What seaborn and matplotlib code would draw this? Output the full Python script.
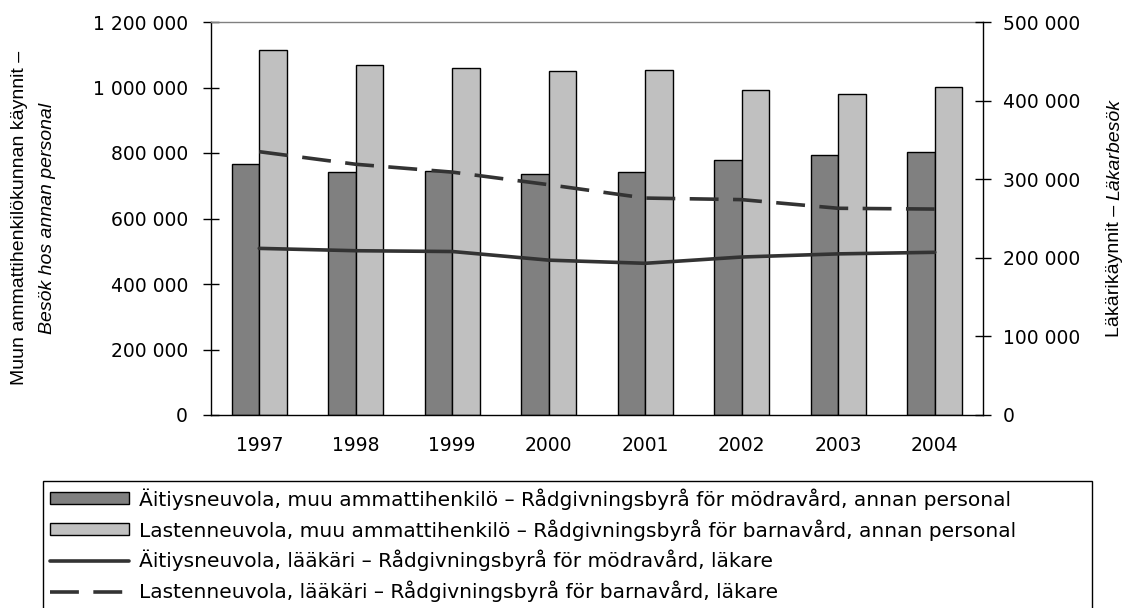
import numpy as np
import pandas as pd
import matplotlib.pyplot as plt
import matplotlib.patches as mpatches
from matplotlib.lines import Line2D
from matplotlib.ticker import FuncFormatter
import seaborn as sns

# Visits per year
years = ["1997", "1998", "1999", "2000", "2001", "2002", "2003", "2004"]
mother_other = [765000, 741000, 746000, 736000, 741000, 780000, 795000, 804000]
child_other = [1113000, 1070000, 1060000, 1050000, 1054000, 991000, 981000, 1001000]
mother_doctor = [212000, 209000, 208000, 197000, 193000, 201000, 205000, 207000]
child_doctor = [335000, 319000, 309000, 293000, 276000, 274000, 263000, 262000]

labels = [
    "Äitiysneuvola, muu ammattihenkilö – Rådgivningsbyrå för mödravård, annan personal",
    "Lastenneuvola, muu ammattihenkilö – Rådgivningsbyrå för barnavård, annan personal",
    "Äitiysneuvola, lääkäri – Rådgivningsbyrå för mödravård, läkare",
    "Lastenneuvola, lääkäri – Rådgivningsbyrå för barnavård, läkare",
]

bars = pd.DataFrame({
    "year": years * 2,
    "visits": mother_other + child_other,
    "group": [labels[0]] * len(years) + [labels[1]] * len(years),
})

dark_bar = "#808080"
light_bar = "#c0c0c0"
line_col = "#333333"

sns.set_style("white")
plt.rcParams["font.family"] = ["DejaVu Sans"]
plt.rcParams["axes.edgecolor"] = "black"
plt.rcParams["text.color"] = "black"
plt.rcParams["xtick.color"] = "black"
plt.rcParams["ytick.color"] = "black"

W, H = 1123, 608
fig = plt.figure(figsize=(W / 100, H / 100), dpi=100)
ax = fig.add_axes([211 / W, 1 - 415 / H, (983 - 211) / W, (415 - 22) / H])

sns.barplot(data=bars, x="year", y="visits", hue="group",
            palette=[dark_bar, light_bar], edgecolor="black", linewidth=1,
            width=0.57, ax=ax, legend=False)

ax2 = ax.twinx()
x = np.arange(len(years))
sns.lineplot(x=x, y=mother_doctor, ax=ax2, color=line_col, linewidth=2.6)
sns.lineplot(x=x, y=child_doctor, ax=ax2, color=line_col, linewidth=2.6,
             linestyle=(0, (8, 4)))

fmt = FuncFormatter(lambda v, p: f"{int(v):,}".replace(",", " "))

ax.set_xlim(-0.5, len(years) - 0.5)
ax.set_ylim(0, 1200000)
ax.set_yticks(range(0, 1200001, 200000))
ax.yaxis.set_major_formatter(fmt)
ax.set_xticks(np.arange(-0.5, len(years), 1), minor=True)
ax.tick_params(axis="x", which="major", length=0, pad=15, labelsize=13.5)
ax.tick_params(axis="x", which="minor", direction="inout", length=10, width=1)
ax.tick_params(axis="y", direction="inout", length=11, width=1, pad=11, labelsize=13.5)
ax.set_xlabel("")
ax.set_ylabel("")

ax2.set_ylim(0, 500000)
ax2.set_yticks(range(0, 500001, 100000))
ax2.yaxis.set_major_formatter(fmt)
ax2.tick_params(axis="y", direction="inout", length=11, width=1, pad=9, labelsize=13.5)
ax2.set_xlabel("")
ax2.set_ylabel("")

for s in ["left", "bottom"]:
    ax.spines[s].set_color("black")
    ax.spines[s].set_linewidth(1)
ax.spines["top"].set_color("#808080")
ax.spines["top"].set_linewidth(1)
ax.spines["right"].set_visible(False)
for s in ["left", "top", "bottom"]:
    ax2.spines[s].set_visible(False)
ax2.spines["right"].set_color("black")
ax2.spines["right"].set_linewidth(1)

# Axis titles
fig.text(20 / W, 1 - 218 / H, "Muun ammattihenkilökunnan käynnit –", rotation=90,
         ha="center", va="center", fontsize=14, family="Liberation Sans")
fig.text(48 / W, 1 - 218 / H, "Besök hos annan personal", rotation=90,
         ha="center", va="center", fontsize=14, family="Liberation Sans", style="italic")

renderer = fig.canvas.get_renderer()
t1 = fig.text(1119 / W, 0, "Läkärikäynnit – ", rotation=90, rotation_mode="anchor",
              ha="left", va="baseline", fontsize=14, family="Liberation Sans")
t2 = fig.text(1119 / W, 0, "Läkarbesök", rotation=90, rotation_mode="anchor",
              ha="left", va="baseline", fontsize=14, family="Liberation Sans", style="italic")
h1 = t1.get_window_extent(renderer).height
h2 = t2.get_window_extent(renderer).height
y0 = (H - 218) - (h1 + h2) / 2
t1.set_y(y0 / H)
t2.set_y((y0 + h1) / H)

for a in (ax, ax2):
    if a.get_legend() is not None:
        a.get_legend().remove()

handles = [
    mpatches.Patch(facecolor=dark_bar, edgecolor="black", linewidth=1),
    mpatches.Patch(facecolor=light_bar, edgecolor="black", linewidth=1),
    Line2D([], [], color=line_col, linewidth=2.6),
    Line2D([], [], color=line_col, linewidth=2.6, linestyle=(0, (8, 4))),
]
leg = fig.legend(handles, labels, loc="upper left",
                 bbox_to_anchor=(43 / W, 0, (1092 - 43) / W, 1 - 481 / H),
                 mode="expand", borderaxespad=0, fontsize=14.5, frameon=True,
                 fancybox=False, edgecolor="black", framealpha=1, handlelength=3.9,
                 handleheight=0.55, handletextpad=0.5, labelspacing=0.47, borderpad=0.35)
leg.get_frame().set_linewidth(1)

plt.savefig("out.png", dpi=100)
